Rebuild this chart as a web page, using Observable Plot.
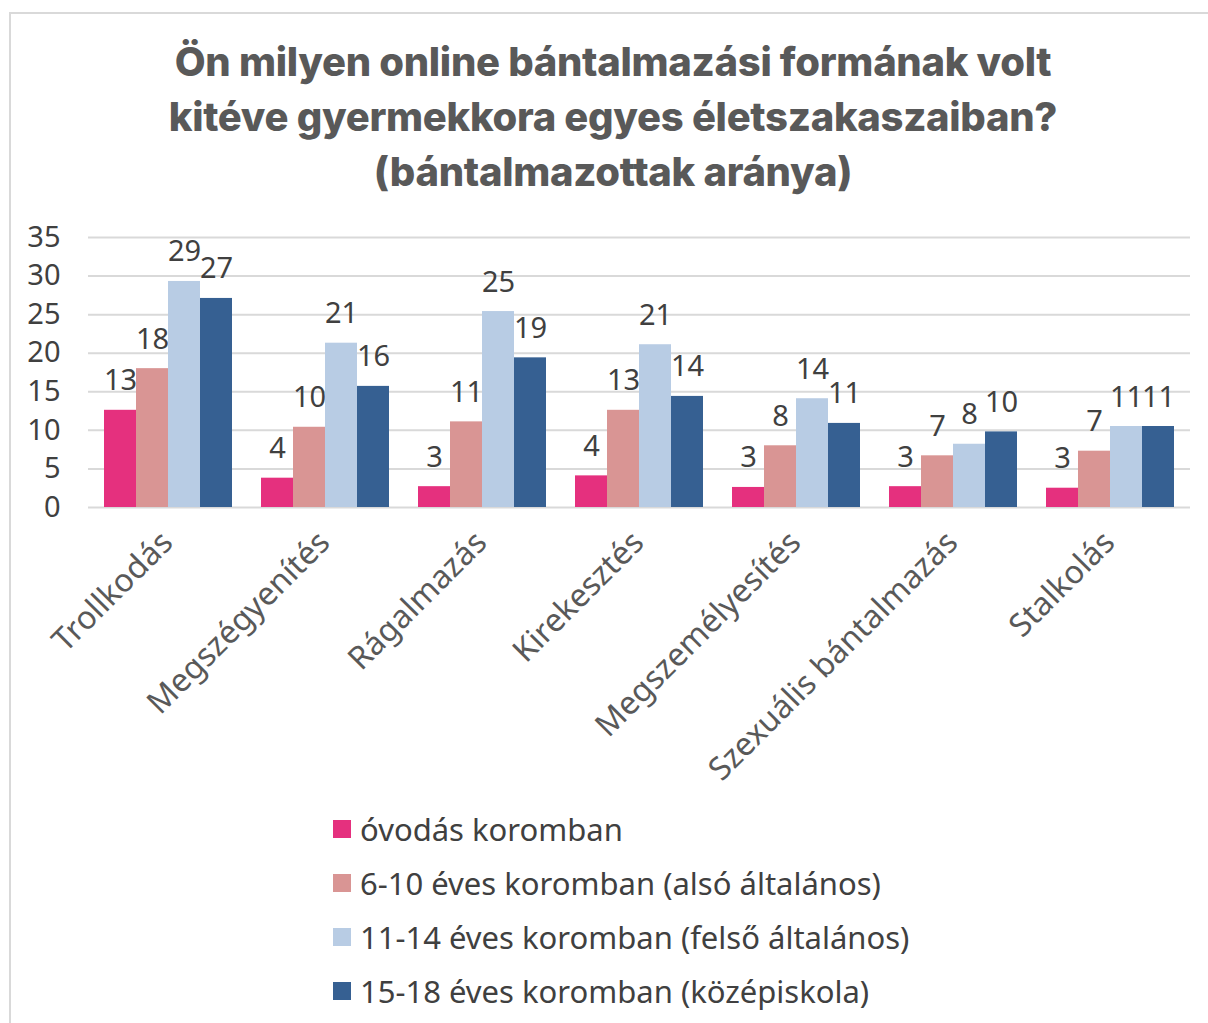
<!DOCTYPE html>
<html>
<head>
<meta charset="utf-8">
<script src="https://cdn.jsdelivr.net/npm/d3@7"></script>
<script src="https://cdn.jsdelivr.net/npm/@observablehq/plot@0.6"></script>
<style>
  html, body { margin: 0; padding: 0; background: #fff; }
  #wrap { position: relative; width: 1208px; height: 1023px; overflow: hidden; font-family: "Noto Sans", sans-serif; }
  #frame { position: absolute; left: 9px; top: 12px; width: 1220px; height: 1040px; border: 2px solid #d9d9d9; box-sizing: border-box; }
  #title { position: absolute; left: 0; top: 34px; width: 1226px; text-align: center; font-family: Inter, "Noto Sans", sans-serif; font-weight: 800; font-size: 40px; line-height: 55px; color: #595959; letter-spacing: -0.3px; }
  #chart { position: absolute; left: 0; top: 200px; }
  #legend { position: absolute; left: 333px; top: 802px; }
  .row { display: flex; align-items: center; height: 54px; font-size: 31px; color: #404040; }
  .sw { width: 18px; height: 18px; margin-right: 9px; }
</style>
</head>
<body>
<div id="wrap">
  <div id="frame"></div>
  <div id="title">Ön milyen online bántalmazási formának volt<br>kitéve gyermekkora egyes életszakaszaiban?<br>(bántalmazottak aránya)</div>
  <div id="chart"></div>
  <div id="legend"></div>
</div>
<script>
const categories = ["Trollkodás", "Megszégyenítés", "Rágalmazás", "Kirekesztés", "Megszemélyesítés", "Szexuális bántalmazás", "Stalkolás"];
const seriesNames = ["óvodás koromban", "6-10 éves koromban (alsó általános)", "11-14 éves koromban (felső általános)", "15-18 éves koromban (középiskola)"];
const colors = ["#e5307e", "#d99594", "#b8cce4", "#366092"];
const ovodas = [12.6, 3.8, 2.7, 4.1, 2.6, 2.7, 2.5];
const also = [18.0, 10.4, 11.1, 12.6, 8.0, 6.7, 7.3];
const felso = [29.3, 21.3, 25.4, 21.1, 14.1, 8.2, 10.5];
const kozep = [27.1, 15.7, 19.4, 14.4, 10.9, 9.8, 10.5];
const yTicks = [0, 5, 10, 15, 20, 25, 30, 35];

const seriesValues = [ovodas, also, felso, kozep];
const BAR = 32; // width of one bar in px within a 4-bar group

const seriesMarks = seriesNames.flatMap((s, j) => {
  const rows = categories.map((c, i) => ({category: c, series: s, value: seriesValues[j][i]}));
  return [
    Plot.barY(rows, {x: "category", y: "value", fill: colors[j], insetLeft: j * BAR, insetRight: (3 - j) * BAR}),
    Plot.text(rows, {x: "category", y: "value", text: d => String(Math.round(d.value)), dx: -1.5 * BAR + j * BAR, dy: -20, lineAnchor: "bottom", fontSize: 29, fill: "#404040"})
  ];
});

const chart = Plot.plot({
  width: 1208,
  height: 600,
  marginLeft: 88,
  marginRight: 18,
  marginTop: 37,
  marginBottom: 293,
  style: {fontFamily: "'Noto Sans', sans-serif", fontSize: "28px", color: "#404040", background: "transparent"},
  x: {domain: categories, paddingInner: 0.187, paddingOuter: 0.0935, axis: null},
  y: {domain: [0, 35], ticks: yTicks, axis: null},
  marks: [
    Plot.gridY(yTicks, {stroke: "#d9d9d9", strokeOpacity: 1, strokeWidth: 2}),
    Plot.axisY({ticks: yTicks, label: null, tickSize: 0, tickPadding: 28, fontSize: 29, fill: "#404040"}),
    ...seriesMarks,
    Plot.text(categories, {x: d => d, text: d => d, frameAnchor: "bottom", dy: 37, dx: 6, rotate: -45, textAnchor: "end", fontSize: 32, fill: "#595959"})
  ]
});
document.getElementById("chart").appendChild(chart);

const legend = document.getElementById("legend");
seriesNames.forEach((s, j) => {
  const row = document.createElement("div");
  row.className = "row";
  const sw = document.createElement("div");
  sw.className = "sw";
  sw.style.background = colors[j];
  const t = document.createElement("span");
  t.textContent = s;
  row.appendChild(sw);
  row.appendChild(t);
  legend.appendChild(row);
});
</script>
</body>
</html>
